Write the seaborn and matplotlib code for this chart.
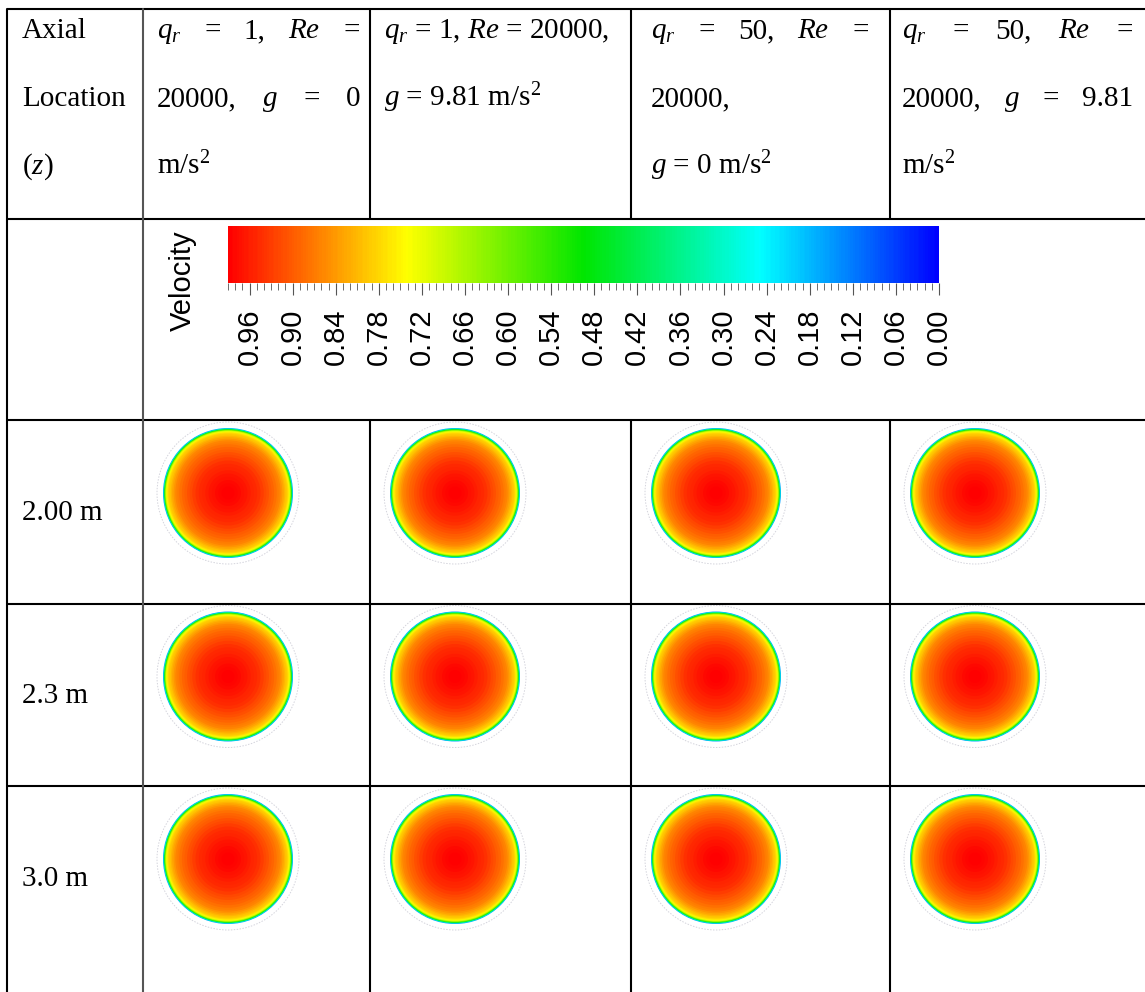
import numpy as np
import matplotlib
matplotlib.use("Agg")
import matplotlib.pyplot as plt
from matplotlib.patches import Circle
from matplotlib.colors import Normalize
from matplotlib.ticker import FixedLocator, MultipleLocator
import seaborn as sns

sns.set_theme(style="white")
plt.rcParams.update({
    "font.family": ["Liberation Serif", "DejaVu Serif"],
    "mathtext.fontset": "custom",
    "mathtext.rm": "Liberation Serif",
    "mathtext.it": "Liberation Serif:italic",
    "mathtext.bf": "Liberation Serif:bold",
    "text.color": "black",
    "xtick.color": "black",
    "ytick.color": "black",
})

# ---------------------------------------------------------------- data
axial_header = ["Axial", "Location", "($z$)"]
axial_locations = ["2.00 m", "2.3 m", "3.0 m"]

# each header line: (words, justified across the cell)
case_headers = [
    [(["$q_r$", "=", "1,", "$Re$", "="], True),
     (["20000,", "$g$", "=", "0"], True),
     (["m/s$^2$"], False)],
    [(["$q_r$ = 1, $Re$ = 20000,"], False),
     (["$g$ = 9.81 m/s$^2$"], False)],
    [(["$q_r$", "=", "50,", "$Re$", "="], True),
     (["20000,"], False),
     (["$g$ = 0 m/s$^2$"], False)],
    [(["$q_r$", "=", "50,", "$Re$", "="], True),
     (["20000,", "$g$", "=", "9.81"], True),
     (["m/s$^2$"], False)],
]

colorbar_label = "Velocity"
colorbar_ticks = [0.96, 0.90, 0.84, 0.78, 0.72, 0.66, 0.60, 0.54, 0.48,
                  0.42, 0.36, 0.30, 0.24, 0.18, 0.12, 0.06, 0.00]
velocity_min, velocity_max = 0.0, 0.99

# radial velocity profile of the cross-section (outer edge of each ring, r/R)
ring_radius = [1.000, 0.992, 0.984, 0.976, 0.968, 0.960, 0.950, 0.940,
               0.930, 0.915, 0.900, 0.880, 0.860, 0.835, 0.810, 0.780,
               0.750, 0.710, 0.670, 0.630, 0.590, 0.550, 0.500, 0.450,
               0.400, 0.350, 0.300, 0.250, 0.200, 0.150, 0.100, 0.050]
ring_velocity = [0.16, 0.30, 0.44, 0.55, 0.63, 0.69, 0.73, 0.755,
                 0.775, 0.79, 0.80, 0.815, 0.83, 0.845, 0.86, 0.87,
                 0.88, 0.89, 0.90, 0.91, 0.92, 0.93, 0.94, 0.948,
                 0.955, 0.962, 0.968, 0.974, 0.979, 0.983, 0.987, 0.99]

# ---------------------------------------------------------------- layout (pixels)
W, H = 1145, 992
FS = 21
col_edges = [7, 143, 370, 631, 890]
row_edges = [9, 219, 420, 603.5, 786]
text_left = [157, 384, 651, 902]
text_right = [360, 614, 869, 1133]
baselines = [38, 106, 174]
PIPE_R = 65

vel_cmap = sns.blend_palette(["#0000ff", "#00ffff", "#00e600", "#ffff00", "#ff0000"],
                             n_colors=256, as_cmap=True)
norm = Normalize(velocity_min, velocity_max)

fig = plt.figure(figsize=(W / 100, H / 100), dpi=100)
fig.patch.set_facecolor("white")
ax = fig.add_axes([0, 0, 1, 1])
ax.set_xlim(0, W)
ax.set_ylim(H, 0)
ax.axis("off")

# ---------------------------------------------------------------- table grid
LW = 1.5
for y in row_edges:
    ax.plot([col_edges[0], W], [y, y], color="black", lw=LW, clip_on=False,
            solid_capstyle="butt")
ax.plot([col_edges[0]] * 2, [row_edges[0], H], color="black", lw=LW)
ax.plot([col_edges[1]] * 2, [row_edges[0], H], color="#555555", lw=LW)
for x in col_edges[2:]:
    ax.plot([x, x], [row_edges[0], row_edges[1]], color="black", lw=LW)
    ax.plot([x, x], [row_edges[2], H], color="black", lw=LW)

# ---------------------------------------------------------------- header text
fig.canvas.draw()
renderer = fig.canvas.get_renderer()


def place_line(words, x0, x1, y, justify):
    texts = [ax.text(x0, y, w, fontsize=FS, va="baseline", ha="left", color="black")
             for w in words]
    widths = [t.get_window_extent(renderer).width for t in texts]
    gap = (x1 - x0 - sum(widths)) / (len(words) - 1) if (justify and len(words) > 1) else 7
    x = x0
    for t, w in zip(texts, widths):
        t.set_x(x)
        x += w + gap


for line, y in zip(axial_header, baselines):
    ax.text(22, y, line, fontsize=FS, va="baseline", ha="left", color="black")

for j, lines in enumerate(case_headers):
    for (words, justify), y in zip(lines, baselines):
        place_line(words, text_left[j], text_right[j], y, justify)

# ---------------------------------------------------------------- colorbar
cax = fig.add_axes([228 / W, 1 - 283 / H, (939 - 228) / W, (283 - 226) / H])
edges = np.linspace(velocity_min, velocity_max, 400)
cax.pcolormesh(edges, [0, 1], ((edges[:-1] + edges[1:]) / 2)[None, :],
               cmap=vel_cmap, norm=norm, shading="flat")
cax.set_xlim(velocity_max, velocity_min)
cax.set_ylim(0, 1)
cax.set_yticks([])
for s in cax.spines.values():
    s.set_visible(False)
cax.xaxis.set_major_locator(FixedLocator(colorbar_ticks))
cax.xaxis.set_minor_locator(MultipleLocator(0.01))
cax.set_xticklabels([f"{v:.2f}" for v in colorbar_ticks],
                    fontfamily="Liberation Sans", fontsize=FS, rotation=90)
cax.tick_params(axis="x", which="major", bottom=True, length=8.5, width=0.8,
                color="#555555", pad=10, labelcolor="black")
cax.tick_params(axis="x", which="minor", bottom=True, length=5, width=0.6,
                color="#555555")
ax.text(183, 281, colorbar_label, rotation=90, fontsize=FS, color="black",
        fontfamily="Liberation Sans", ha="center", va="center")

# ---------------------------------------------------------------- velocity cross-sections
for i, label in enumerate(axial_locations):
    top = row_edges[2 + i]
    ax.text(22, top + 91.5 + 8, label, fontsize=FS, color="black",
            va="baseline", ha="left")
    cy = top + 73
    for j in range(4):
        cx = col_edges[1 + j] + 85
        ax.add_patch(Circle((cx, cy), PIPE_R + 6, fill=False, ec="#d4d4dc",
                            lw=0.7, ls=(0, (1.5, 1.5))))
        for r, u in zip(ring_radius, ring_velocity):
            ax.add_patch(Circle((cx, cy), r * PIPE_R, fc=vel_cmap(norm(u)),
                                ec="none", lw=0))

fig.savefig("out.png", dpi=100, facecolor="white")
